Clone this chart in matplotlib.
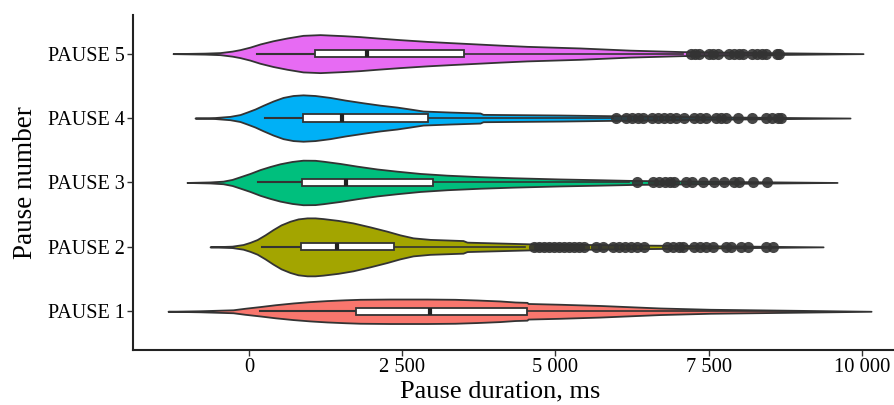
import matplotlib.pyplot as plt
import numpy as np

FONT = "Liberation Serif"
LINE_COLOR = "#333333"

pauses = ["PAUSE 1", "PAUSE 2", "PAUSE 3", "PAUSE 4", "PAUSE 5"]
colors = ["#F8766D", "#A3A500", "#00BF7D", "#00B0F6", "#E76BF3"]

# violin outlines: duration (ms) -> half width (category units)
violin_x = [
    [-1322, -800, -261, -65, 180, 424, 718, 996, 1273, 1567, 1812, 2301, 2905,
     3362, 3721, 4096, 4341, 4537, 4553, 5076, 5728, 6707, 7524, 8829, 10151],
    [-636, -277, -98, 16, 131, 261, 392, 522, 669, 800, 947, 1077, 1208, 1452,
     1697, 1975, 2252, 2464, 2677, 2954, 3492, 3558, 4586, 6055, 7360, 9368],
    [-1012, -636, -424, -277, -147, 16, 180, 343, 506, 702, 881, 1077, 1208,
     1485, 1763, 2089, 2415, 2791, 3231, 3770, 4308, 5076, 5728, 6267, 7687, 9596],
    [-881, -555, -310, -147, -33, 98, 228, 392, 555, 718, 881, 1077, 1322, 1567,
     1860, 2138, 2415, 2628, 2840, 3280, 3770, 3819, 5076, 5940, 7360, 9808],
    [-1240, -718, -473, -277, -147, 16, 180, 392, 620, 881, 1159, 1534, 1811,
     2089, 2464, 2905, 3280, 3721, 4096, 4537, 5401, 6217, 7082, 8339, 10020],
]
violin_hw = [
    [0, 0.008, 0.023, 0.047, 0.073, 0.101, 0.129, 0.15, 0.166, 0.178, 0.186,
     0.19, 0.19, 0.186, 0.175, 0.16, 0.144, 0.138, 0.121, 0.109, 0.09, 0.051,
     0.031, 0.016, 0],
    [0, 0.011, 0.036, 0.07, 0.113, 0.186, 0.268, 0.341, 0.398, 0.434, 0.45,
     0.45, 0.439, 0.411, 0.372, 0.31, 0.243, 0.186, 0.14, 0.116, 0.098, 0.073,
     0.047, 0.031, 0.019, 0],
    [0, 0.008, 0.02, 0.047, 0.088, 0.14, 0.2, 0.248, 0.29, 0.326, 0.346, 0.344,
     0.33, 0.295, 0.253, 0.209, 0.175, 0.14, 0.113, 0.09, 0.073, 0.054, 0.042,
     0.031, 0.016, 0],
    [0, 0.008, 0.026, 0.054, 0.093, 0.14, 0.197, 0.264, 0.32, 0.35, 0.36, 0.35,
     0.32, 0.279, 0.237, 0.2, 0.17, 0.14, 0.109, 0.093, 0.078, 0.057, 0.047,
     0.036, 0.02, 0],
    [0, 0.008, 0.016, 0.039, 0.062, 0.101, 0.15, 0.2, 0.243, 0.284, 0.295,
     0.279, 0.264, 0.243, 0.217, 0.19, 0.171, 0.15, 0.132, 0.113, 0.088, 0.054,
     0.031, 0.016, 0],
]

# box stats: lower whisker, q1, median, q3, upper whisker
whisk_lo = [180, 212, 147, 261, 130]
q1 = [1746, 849, 865, 881, 1077]
median = [2954, 1436, 1583, 1518, 1926]
q3 = [4537, 2366, 3003, 2921, 3508]
whisk_hi = [9000, 4500, 6200, 5940, 7082]

outliers = [
    [],
    [4651, 4732, 4814, 4896, 4977, 5059, 5140, 5222, 5304, 5385, 5467, 5663, 5777,
     5940, 6038, 6136, 6234, 6332, 6446, 6821, 6919, 7017, 7082, 7262, 7360, 7458,
     7572, 7784, 7866, 8029, 8143, 8437, 8551],
    [6332, 6593, 6691, 6789, 6870, 6935, 7131, 7229, 7409, 7588, 7751, 7915, 7996,
     8225, 8453],
    [5989, 6152, 6250, 6348, 6430, 6576, 6674, 6772, 6870, 6968, 7099, 7262, 7360,
     7458, 7621, 7702, 7784, 7980, 8208, 8437, 8535, 8633, 8681],
    [7213, 7278, 7343, 7507, 7572, 7653, 7833, 7915, 7996, 8061, 8208, 8290, 8371,
     8437, 8616, 8649],
]

xticks = [0, 2500, 5000, 7500, 10000]
xticklabels = ["0", "2 500", "5 000", "7 500", "10 000"]

fig = plt.figure(figsize=(8.94, 4.05), dpi=100)
ax = fig.add_axes([0.1488, 0.136, 0.8512, 0.827])

BOX_H = 0.11
for i, name in enumerate(pauses):
    y = i + 1
    xs = np.array(violin_x[i])
    hw = np.array(violin_hw[i])
    ax.fill_between(xs, y - hw, y + hw, facecolor=colors[i],
                    edgecolor=LINE_COLOR, linewidth=1.3, zorder=2)

    # whiskers
    ax.plot([whisk_lo[i], q1[i]], [y, y], color=LINE_COLOR, lw=1.5, zorder=3)
    ax.plot([q3[i], whisk_hi[i]], [y, y], color=LINE_COLOR, lw=1.2, zorder=3)
    # box
    ax.add_patch(plt.Rectangle((q1[i], y - BOX_H / 2), q3[i] - q1[i], BOX_H,
                               facecolor="white", edgecolor=LINE_COLOR,
                               linewidth=1.3, zorder=4))
    ax.plot([median[i], median[i]], [y - BOX_H / 2, y + BOX_H / 2],
            color="#222222", lw=3, solid_capstyle="butt", zorder=5)
    # outliers
    if outliers[i]:
        ax.plot(outliers[i], [y] * len(outliers[i]), "o", color=LINE_COLOR,
                markersize=8, markeredgewidth=0, alpha=0.9, zorder=5)

ax.set_xlim(-1893, 10525)
ax.set_ylim(0.4, 5.6)
ax.set_yticks(range(1, len(pauses) + 1))
ax.set_yticklabels(pauses, fontfamily=FONT, fontsize=14.5)
ax.set_xticks(xticks)
ax.set_xticklabels(xticklabels, fontfamily=FONT, fontsize=14.8)
ax.tick_params(length=4, width=1, color=LINE_COLOR, pad=2)

ax.set_xlabel("Pause duration, ms", fontfamily=FONT, fontsize=19)
ax.xaxis.set_label_coords(0.482, -0.09)
ax.set_ylabel("Pause number", fontfamily=FONT, fontsize=19.5, labelpad=7)

for side in ["top", "right"]:
    ax.spines[side].set_visible(False)
for side in ["left", "bottom"]:
    ax.spines[side].set_linewidth(1.5)
    ax.spines[side].set_color("#222222")

fig.savefig("out.png", dpi=100)
